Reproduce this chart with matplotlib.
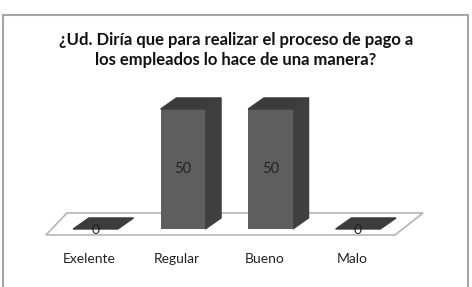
import numpy as np
import matplotlib.pyplot as plt
from matplotlib.patches import Rectangle

categories = ["Exelente", "Regular", "Bueno", "Malo"]
values = [0, 50, 50, 0]
title = "¿Ud. Diría que para realizar el proceso de pago a\nlos empleados lo hace de una manera?"

W, H = 472, 287
fig = plt.figure(figsize=(W / 100, H / 100), dpi=100)
ax = fig.add_axes([0, 0, 1, 1])
ax.set_xlim(-1.0914, 4.3029)
ax.set_ylim(-24.17, 95.42)
ax.axis("off")

font = "Lato"
x = np.arange(len(categories))
bw = 0.51        # bar width
ddx = 0.18       # depth offset (x)
ddy = 4.6        # depth offset (y)

# floor
fx = [-0.566, 3.423, 3.743, -0.326]
fy = [-2.5, -2.5, 6.67, 6.67]
ax.fill(fx, fy, facecolor="white", edgecolor="#b5b5b5", lw=1.2, zorder=1)

# bars: front faces
ax.bar(x, values, width=bw, color="#5e5e5e", zorder=3)
for xi, v in zip(x, values):
    l, r = xi - bw / 2, xi + bw / 2
    # side face
    if v > 0:
        ax.fill([r, r + ddx, r + ddx, r], [0, ddy, v + ddy, v],
                color="#404040", zorder=2)
    # top face
    ax.fill([l, r, r + ddx, l + ddx], [v, v, v + ddy, v + ddy],
            color="#3c3c3c", zorder=3)
    if v > 0:
        ax.text(xi, v / 2, str(v), ha="center", va="center",
                fontsize=10.5, family=font, color="#222222", zorder=5)
    else:
        ax.text(xi, -0.5, str(v), ha="center", va="center",
                fontsize=10, family=font, color="#222222", zorder=5)

for xi, c in zip(x, categories):
    ax.text(xi - 0.07, -12.5, c, ha="center", va="center",
            fontsize=10, family=font, color="#222222")

fig.text(0.5, 1 - 50 / H, title, ha="center", va="center", fontsize=12,
         family=font, weight="bold", color="#111111", linespacing=1.35)

fig.patches.append(Rectangle((3 / W, -0.1), 465 / W, 1.1 - 15 / H,
                             transform=fig.transFigure, fill=False,
                             edgecolor="#a6a6a6", lw=1.5))

fig.savefig("out.png", dpi=100)
